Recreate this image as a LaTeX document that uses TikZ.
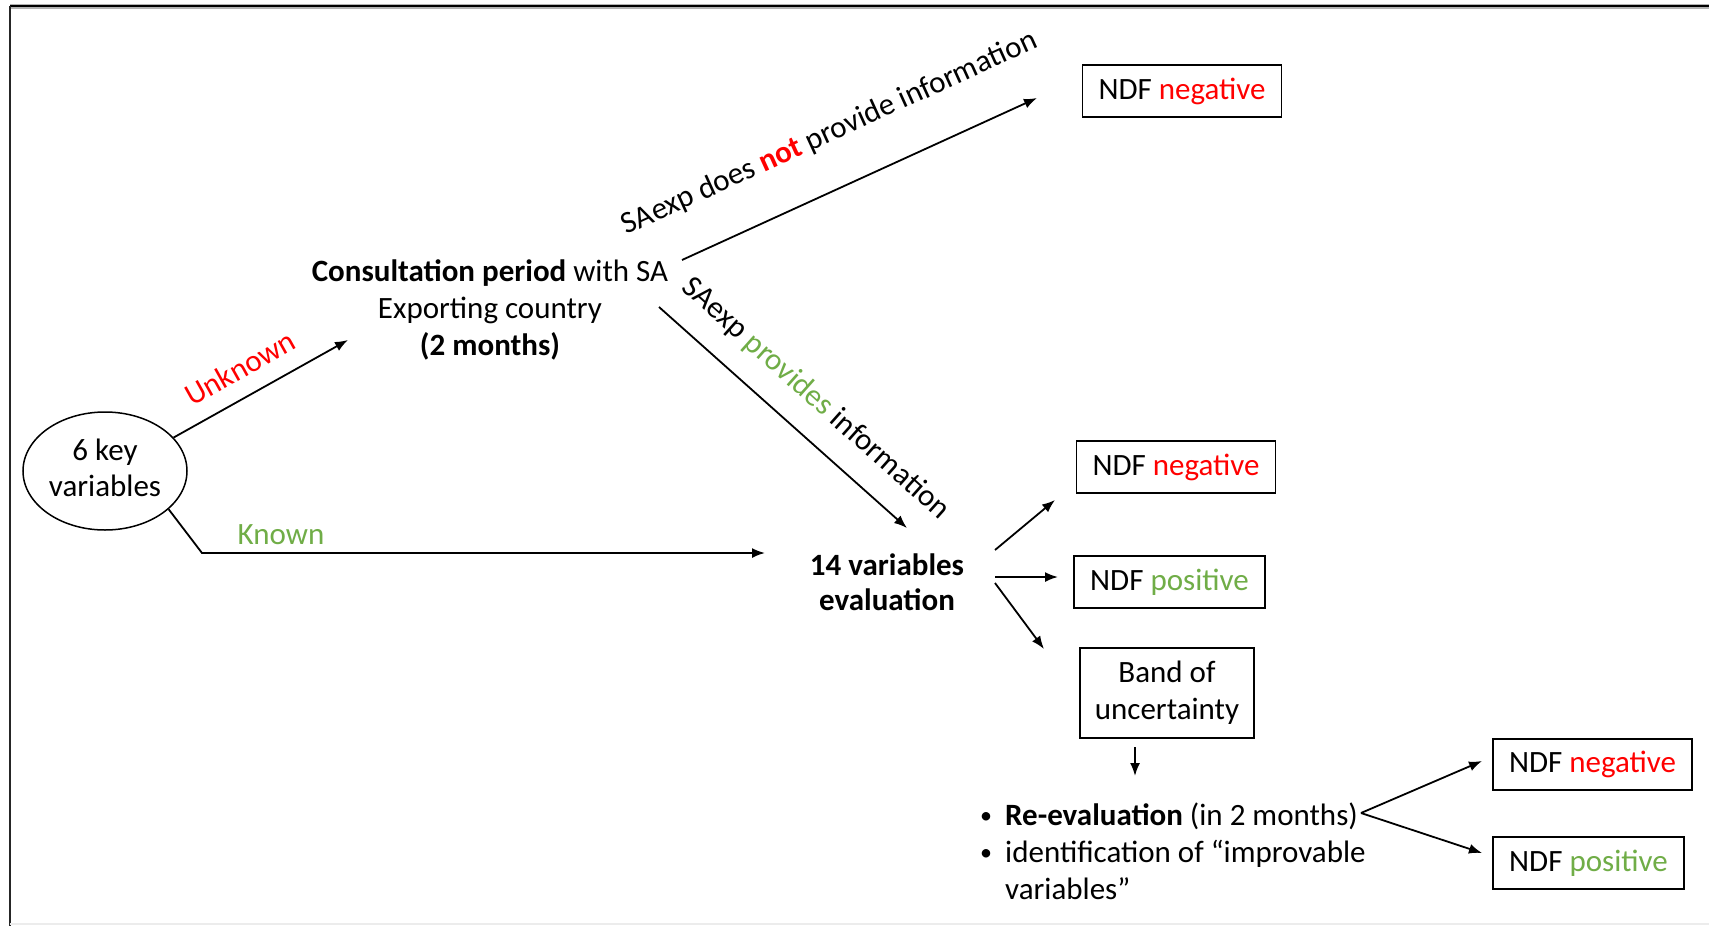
\documentclass[tikz,border=0pt]{standalone}
\usepackage{fontspec}
\setmainfont{Carlito}
\usetikzlibrary{shapes.geometric,arrows.meta}
\definecolor{nred}{RGB}{255,0,0}
\definecolor{ngreen}{RGB}{112,173,71}
\begin{document}
\begin{tikzpicture}[x=1pt,y=-1pt,
  every node/.style={font=\fontsize{31pt}{37pt}\selectfont},
  arr/.style={line width=1.8pt,-{Latex[length=13pt,width=10pt]}},
  ndf/.style={draw,line width=1.5pt,minimum height=52pt,inner sep=0pt,anchor=center},
  lbl/.style={inner sep=0pt}]
\useasboundingbox (0,0) rectangle (1709,926);
\fill[white] (0,0) rectangle (1709,926);
% frame
\draw[gray!60,line width=5pt] (10,6) -- (1709,6);
\draw[black,line width=2.5pt] (10,6) -- (1709,6);
\draw[black!85,line width=2.5pt] (10,6) -- (10,926);
\draw[gray!15,line width=2pt] (10,924) -- (1709,924);
% nodes
\node[ellipse,draw,line width=1.5pt,minimum width=164pt,minimum height=118pt,inner sep=0pt,font=\fontsize{31pt}{36pt}\selectfont] (ell) at (105,471) {\raisebox{4pt}{\begin{tabular}{@{}c@{}}6 key\\variables\end{tabular}}};
\node[align=center,inner sep=0pt] (cons) at (490,310) {\textbf{Consultation period} with SA\\Exporting country\\\textbf{(2 months)}};
\node[align=center,inner sep=0pt,font=\bfseries\fontsize{31pt}{35pt}\selectfont] (ev) at (887,582) {14 variables\\evaluation};
\node[ndf,minimum width=199pt] (n1) at (1182,91) {NDF \textcolor{nred}{negative}};
\node[ndf,minimum width=199pt] (n2) at (1176,467) {NDF \textcolor{nred}{negative}};
\node[ndf,minimum width=191pt] (p2) at (1169.5,582) {NDF \textcolor{ngreen}{positive}};
\node[ndf,minimum width=174pt,minimum height=90pt,align=center] (band) at (1167,693) {Band of\\uncertainty};
\node[ndf,minimum width=199pt,minimum height=51pt] (n3) at (1592.5,764.5) {NDF \textcolor{nred}{negative}};
\node[ndf,minimum width=191pt] (p3) at (1588.5,863) {NDF \textcolor{ngreen}{positive}};
% bullet text
\node[lbl,anchor=base west,font=\fontsize{24pt}{37pt}\selectfont] (b1) at (980,823) {•};
\node[lbl,anchor=base west] (r1) at (1005,825) {\textbf{Re-evaluation} (in 2 months)};
\node[lbl,anchor=base west,font=\fontsize{24pt}{37pt}\selectfont] (b2) at (980,860) {•};
\node[lbl,anchor=base west] (r2) at (1005,862) {identification of “improvable};
\node[lbl,anchor=base west] (r3) at (1005,899) {variables”};
% labels
\node[lbl,text=nred,rotate=29.3] (lu) at (240,368) {Unknown};
\node[lbl,text=ngreen] (lk) at (281,535) {Known};
\node[lbl,rotate=24.5,anchor=base] (lnot) at (833,141) {SAexp does \textcolor{nred}{\textbf{not}} provide information};
\node[lbl,rotate=-41.7,anchor=base] (lprov) at (810,405) {SAexp \textcolor{ngreen}{provides} information};
% connector ends
\coordinate (u2) at (348,340);
\coordinate (kc) at (202,553);
\coordinate (k2) at (765,553);
\coordinate (t1) at (682,260);
\coordinate (t2) at (1037,98);
\coordinate (s1) at (659,307);
\coordinate (s2) at (907,528);
\coordinate (e1) at (995,550);
\coordinate (e1t) at (1055,500);
\coordinate (e2) at (995,577);
\coordinate (e2t) at (1058,577);
\coordinate (e3) at (995,583);
\coordinate (e3t) at (1044,649);
\coordinate (d1) at (1135,747);
\coordinate (d2) at (1135,776);
\coordinate (r0) at (1361,813);
\coordinate (rn) at (1482,761);
\coordinate (rp) at (1482,853);
% connectors
\draw[arr] (ell.26) -- (u2);
\draw[arr] (ell.-31) -- (kc) -- (k2);
\draw[arr] (t1) -- (t2);
\draw[arr] (s1) -- (s2);
\draw[arr] (e1) -- (e1t);
\draw[arr] (e2) -- (e2t);
\draw[arr] (e3) -- (e3t);
\draw[arr] (d1) -- (d2);
\draw[arr] (r0) -- (rn);
\draw[arr] (r0) -- (rp);
\end{tikzpicture}
\end{document}
